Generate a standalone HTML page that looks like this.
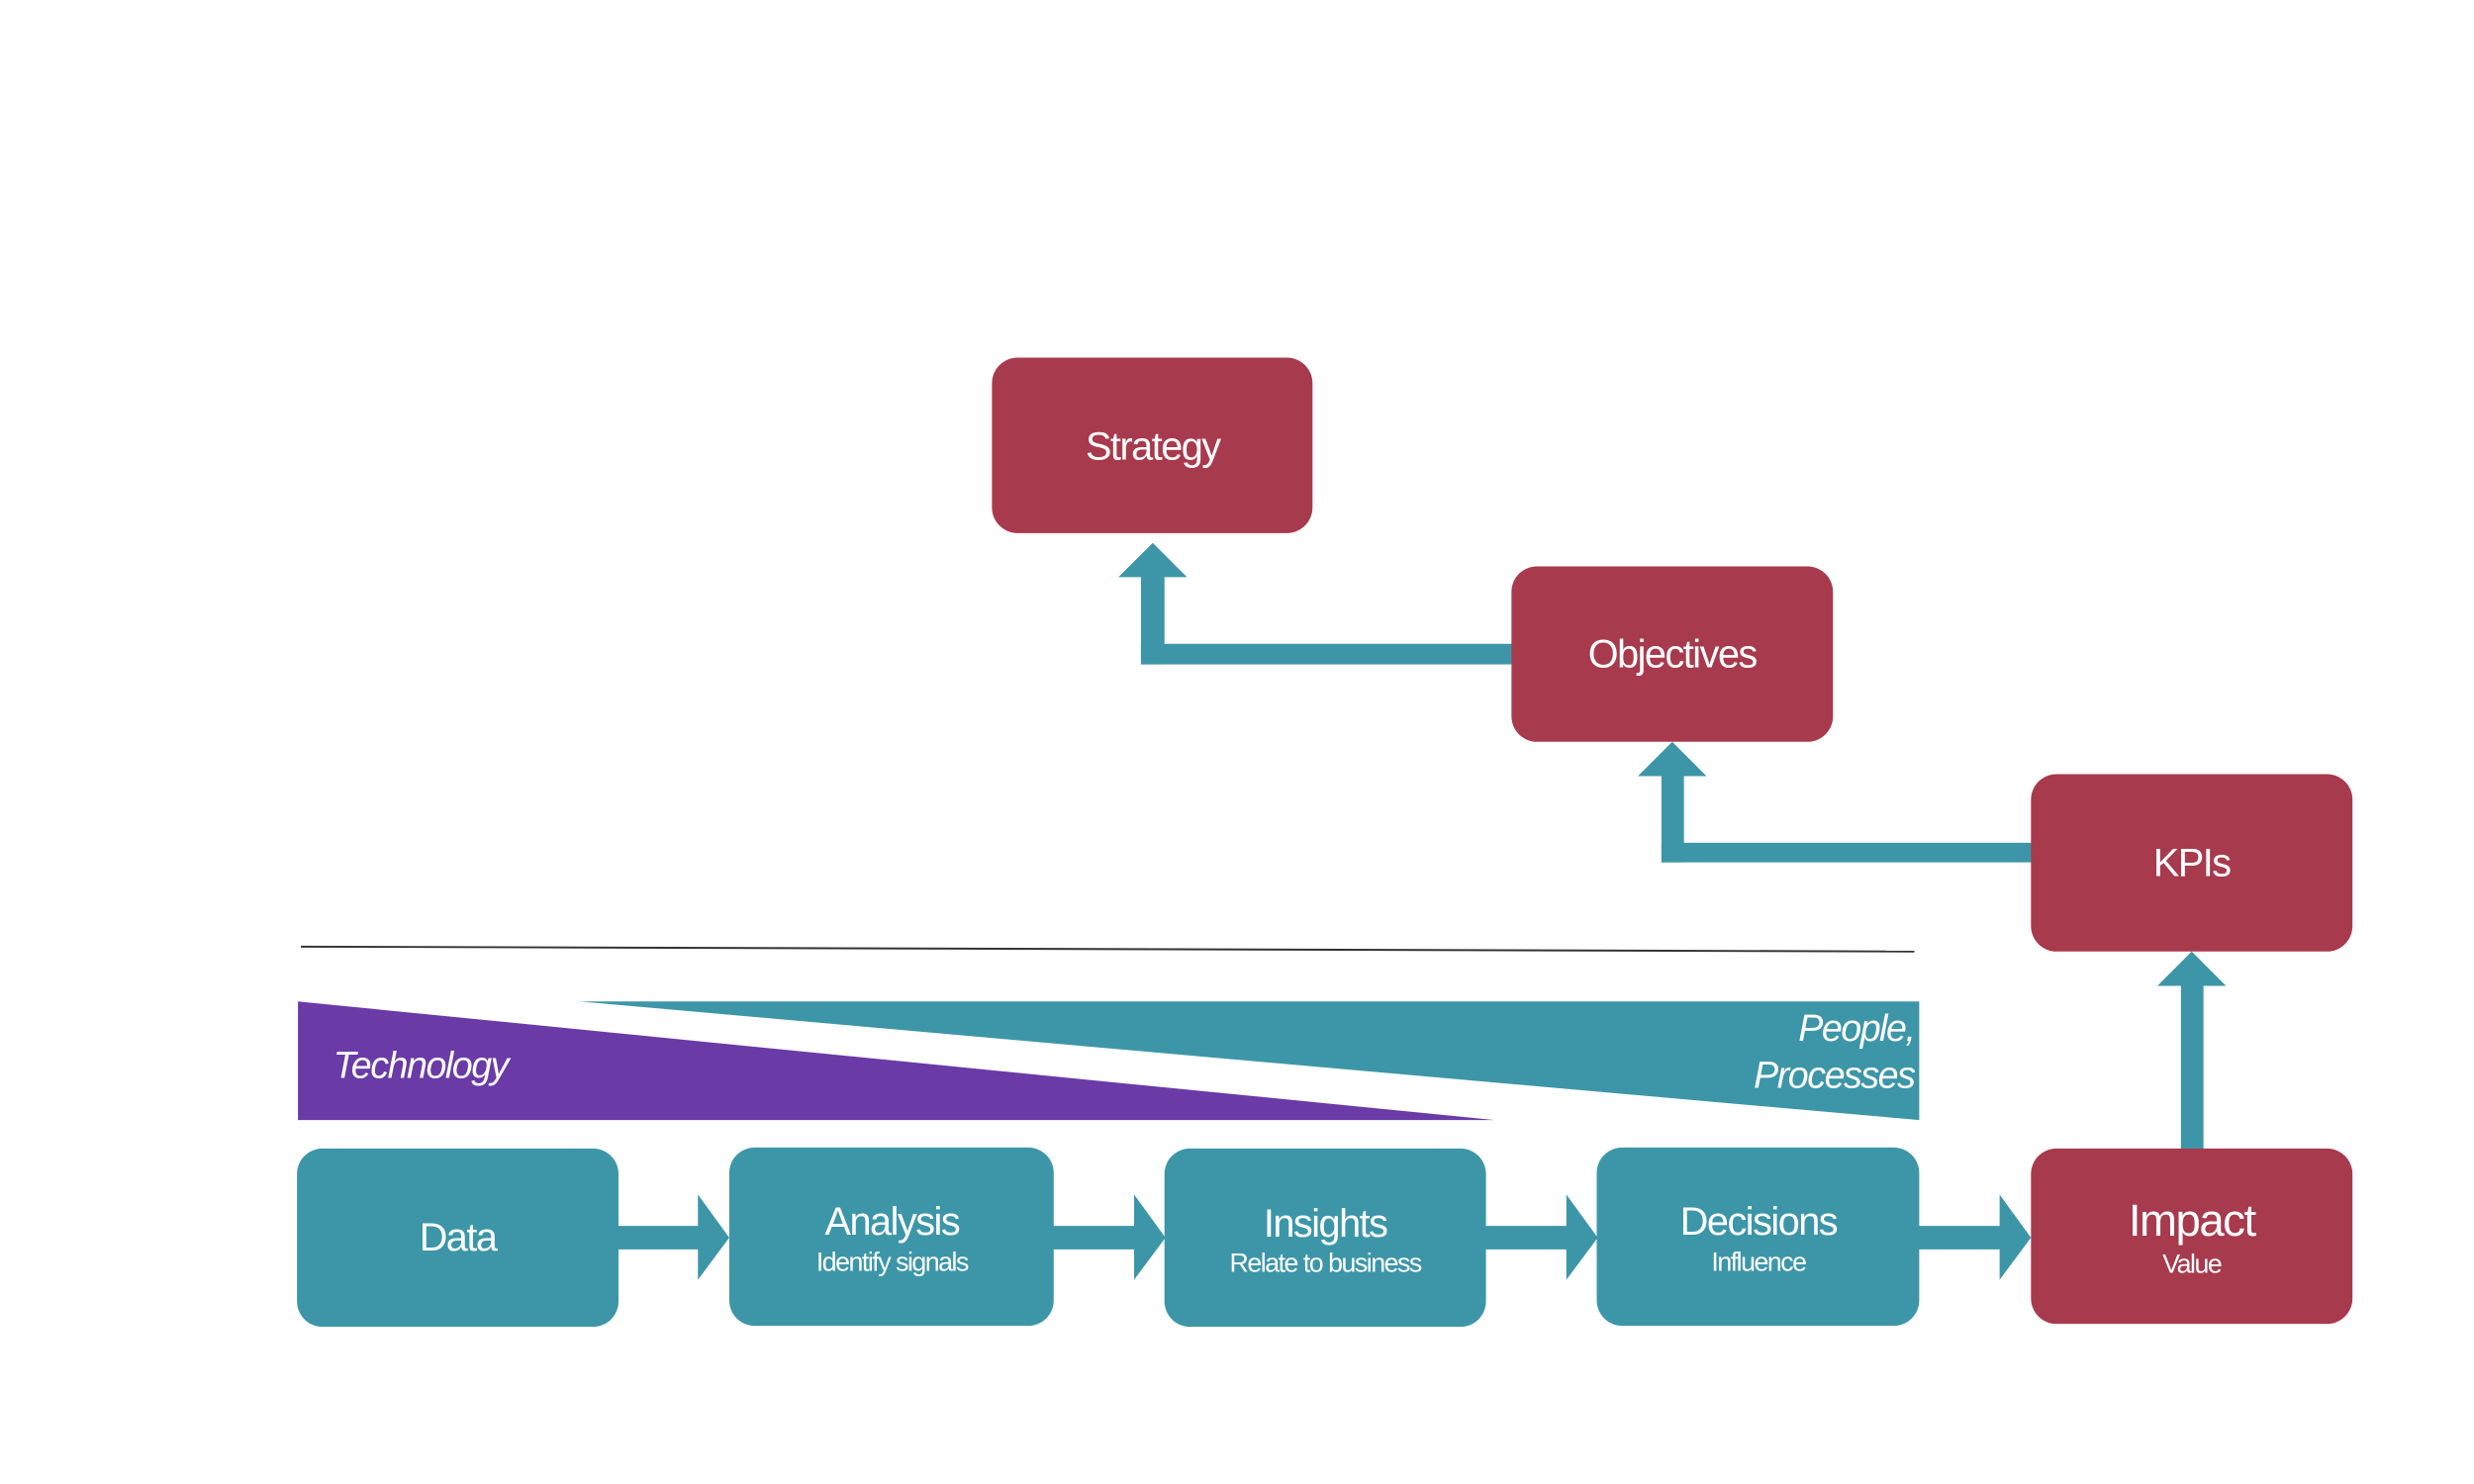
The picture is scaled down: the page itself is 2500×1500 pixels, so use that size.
<!DOCTYPE html>
<html><head><meta charset="utf-8"><style>
html,body{margin:0;padding:0;background:#fff;}
svg{display:block;}
text{font-family:"Liberation Sans",sans-serif;fill:#fff;letter-spacing:-1.5px;}
</style></head><body>
<svg width="2500" height="1500" viewBox="0 0 2500 1500" xmlns="http://www.w3.org/2000/svg">
<g transform="scale(0.9905)">
<g fill="#3D96A8">
<rect x="628" y="1251" width="86" height="24"/><polygon points="712,1219 744,1263 712,1306"/>
<rect x="1073" y="1251" width="86" height="24"/><polygon points="1157,1219 1189,1263 1157,1306"/>
<rect x="1514" y="1251" width="86" height="24"/><polygon points="1598,1219 1630,1263 1598,1306"/>
<rect x="1956" y="1251" width="86" height="24"/><polygon points="2040,1219 2072,1263 2040,1306"/>
<rect x="2225" y="1004" width="23" height="170"/><polygon points="2201,1006 2236,971 2271,1006"/>
<rect x="1695" y="860" width="380" height="20"/><rect x="1695" y="790" width="23" height="90"/><polygon points="1671,792 1706,757 1741,792"/>
<rect x="1164" y="657" width="380" height="21"/><rect x="1164" y="587" width="24" height="91"/><polygon points="1141,589 1176,554 1211,589"/>
</g>
<line x1="307" y1="966" x2="1953" y2="971" stroke="#333" stroke-width="2"/>
<polygon points="304,1022 304,1143 1525,1143" fill="#6A3AA7"/>
<polygon points="591,1022 1958,1022 1958,1143" fill="#3D96A8"/>
<text x="340" y="1100" font-size="38" font-style="italic">Technology</text>
<text x="1953" y="1062" font-size="38" font-style="italic" text-anchor="end">People,</text>
<text x="1953" y="1110" font-size="38" font-style="italic" text-anchor="end">Processes</text>
<g fill="#3D96A8">
<rect x="303" y="1172" width="328" height="182" rx="26"/>
<rect x="744" y="1171" width="331" height="182" rx="26"/>
<rect x="1188" y="1172" width="328" height="182" rx="26"/>
<rect x="1629" y="1171" width="329" height="182" rx="26"/>
</g>
<g fill="#A83A4D">
<rect x="2072" y="1172" width="328" height="179" rx="26"/>
<rect x="2072" y="790" width="328" height="181" rx="26"/>
<rect x="1542" y="578" width="328" height="179" rx="26"/>
<rect x="1012" y="365" width="327" height="179" rx="26"/>
</g>
<g text-anchor="middle">
<text x="467" y="1276" font-size="40">Data</text>
<text x="910" y="1260" font-size="40">Analysis</text>
<text x="910" y="1297" font-size="27">Identify signals</text>
<text x="1352" y="1262" font-size="40">Insights</text>
<text x="1352" y="1298" font-size="27">Relate to business</text>
<text x="1794" y="1260" font-size="40">Decisions</text>
<text x="1794" y="1297" font-size="27">Influence</text>
<text x="2236" y="1261" font-size="46">Impact</text>
<text x="2236" y="1299" font-size="27">Value</text>
<text x="2236" y="894" font-size="40">KPIs</text>
<text x="1706" y="681" font-size="40">Objectives</text>
<text x="1176" y="469" font-size="40">Strategy</text>
</g>
</g>
</svg>
</body></html>
